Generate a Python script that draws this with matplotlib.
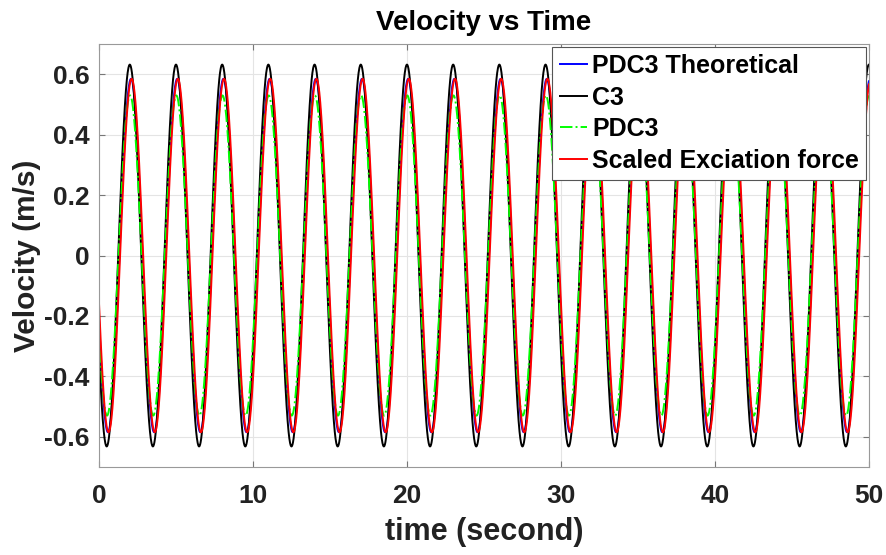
import numpy as np
import matplotlib.pyplot as plt

# sinusoid parameters
series_names = ['PDC3 Theoretical', 'C3', 'PDC3', 'Scaled Exciation force']
series_colors = ['#0000ff', '#000000', '#00ff00', '#ff0000']
series_styles = ['-', '-', '-.', '-']
amplitudes = [0.585, 0.632, 0.530, 0.585]   # m/s
peak_times = [2.08, 2.0, 2.02, 2.12]        # s, time of first peak
period = 3.0                                # s
t_end = 50

plt.rcParams['font.family'] = ['Liberation Sans', 'DejaVu Sans']
plt.rcParams['font.weight'] = 'bold'

fig = plt.figure(figsize=(8.87, 5.55), dpi=100)
ax = fig.add_axes([0.1116, 0.1586, 0.868, 0.762])

t = np.linspace(0, t_end, 5001)
for name, c, ls, amp, tp in zip(series_names, series_colors, series_styles, amplitudes, peak_times):
    v = amp * np.cos(2 * np.pi * (t - tp) / period)
    ax.plot(t, v, ls, color=c, lw=1.4, label=name)

ax.set_xlim(0, 50)
ax.set_ylim(-0.7, 0.7)
ax.set_xticks([0, 10, 20, 30, 40, 50])
ax.set_yticks([-0.6, -0.4, -0.2, 0, 0.2, 0.4, 0.6])
ax.set_yticklabels(['-0.6', '-0.4', '-0.2', '0', '0.2', '0.4', '0.6'])
ax.tick_params(direction='in', labelsize=19, length=4, color='#777777', top=True, right=True)
ax.tick_params(axis='x', pad=12)
ax.tick_params(axis='y', pad=7)
for lbl in ax.get_xticklabels() + ax.get_yticklabels():
    lbl.set_fontweight('bold')
    lbl.set_color('#222222')
ax.grid(True, color='#e4e4e4', lw=0.8)
ax.set_axisbelow(True)
for s in ax.spines.values():
    s.set_color('#999999')

ax.set_title('Velocity vs Time', fontsize=20, fontweight='bold', pad=10)
ax.set_xlabel('time (second)', fontsize=22, fontweight='bold', color='#222222')
ax.xaxis.set_label_coords(0.5, -0.118)
ax.set_ylabel('Velocity (m/s)', fontsize=21.5, fontweight='bold', labelpad=2, color='#222222')

leg = ax.legend(loc='upper right', prop={'weight': 'bold', 'size': 18},
                fancybox=False, framealpha=1, edgecolor='#555555',
                handlelength=1.1, handletextpad=0.2, borderpad=0.3,
                labelspacing=0.3, borderaxespad=0.1)
leg.get_frame().set_linewidth(0.8)

fig.savefig('out.png', dpi=100)
